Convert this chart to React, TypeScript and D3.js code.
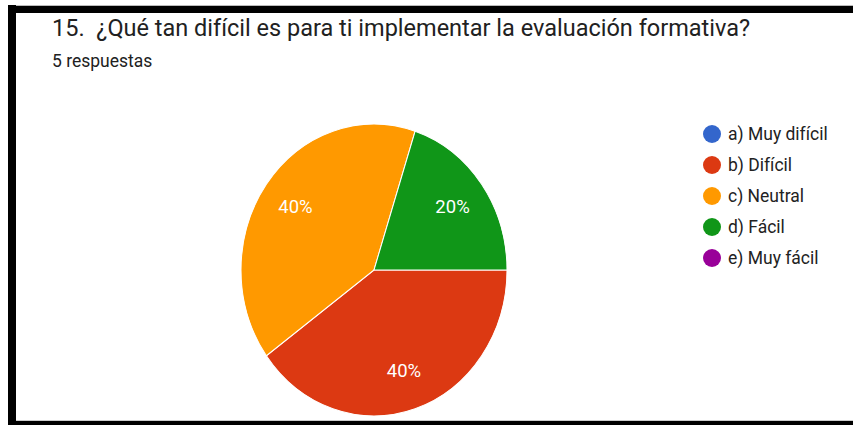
import { useEffect, useRef } from 'react';
import * as d3 from 'd3';

const categories = ['a) Muy difícil', 'b) Difícil', 'c) Neutral', 'd) Fácil', 'e) Muy fácil'];
const counts = [0, 2, 2, 1, 0];
const colors = ['#3366cc', '#dc3912', '#ff9900', '#109618', '#990099'];
const title = '15.  ¿Qué tan difícil es para ti implementar la evaluación formativa?';
const subtitle = '5 respuestas';

export default function App() {
    const svgRef = useRef<SVGSVGElement>(null);

    useEffect(() => {
        if (!svgRef.current) return;
        const svg = d3.select(svgRef.current);
        svg.selectAll('*').remove();

        const width = 853;
        const height = 425;
        const font = 'Roboto, Arial, sans-serif';

        svg.append('rect').attr('width', width).attr('height', height).attr('fill', '#fff');

        // frame (screenshot border)
        svg.append('rect').attr('x', 8).attr('y', 5).attr('width', width - 8).attr('height', 1).attr('fill', '#bbb');
        svg.append('rect').attr('x', 8).attr('y', 6).attr('width', width - 8).attr('height', 7).attr('fill', '#000');
        svg.append('rect').attr('x', 8).attr('y', 5).attr('width', 8).attr('height', height - 5).attr('fill', '#000');
        svg.append('rect').attr('x', 16).attr('y', 420).attr('width', width - 16).attr('height', 1).attr('fill', '#ccc');
        svg.append('rect').attr('x', 8).attr('y', 421).attr('width', width - 8).attr('height', 4).attr('fill', '#000');

        // title
        svg.append('text')
            .attr('x', 52).attr('y', 36)
            .attr('font-family', font).attr('font-size', 23.5)
            .attr('fill', '#212121')
            .style('white-space', 'pre')
            .text(title);

        svg.append('text')
            .attr('x', 52).attr('y', 67)
            .attr('font-family', font).attr('font-size', 17.5)
            .attr('fill', '#212121')
            .text(subtitle);

        // pie (the screenshot is a bit stretched vertically)
        const cx = 374;
        const cy = 270;
        const r = 133;
        const stretch = 1.097;
        const total = d3.sum(counts);

        const pie = d3.pie<number>()
            .sort(null)
            .value(d => d)
            .startAngle(Math.PI / 2)
            .endAngle(Math.PI / 2 + 2 * Math.PI);
        const arcs = pie(counts);
        const arc = d3.arc<d3.PieArcDatum<number>>().innerRadius(0).outerRadius(r);
        const labelArc = d3.arc<d3.PieArcDatum<number>>().innerRadius(r * 0.73).outerRadius(r * 0.73);

        const g = svg.append('g').attr('transform', `translate(${cx},${cy}) scale(1,${stretch})`);
        g.selectAll('path')
            .data(arcs.filter(d => d.value > 0))
            .enter()
            .append('path')
            .attr('d', arc)
            .attr('fill', d => colors[d.index])
            .attr('stroke', '#fff')
            .attr('stroke-width', 1);

        arcs.filter(d => d.value > 0).forEach(d => {
            const [lx, ly] = labelArc.centroid(d);
            svg.append('text')
                .attr('x', cx + lx)
                .attr('y', cy + ly * stretch)
                .attr('text-anchor', 'middle')
                .attr('dominant-baseline', 'central')
                .attr('font-family', font).attr('font-size', 18.5)
                .attr('fill', '#fff')
                .text(`${Math.round((d.value / total) * 100)}%`);
        });

        // legend
        const legendY = d3.scalePoint<string>().domain(categories).range([134, 258]);
        const lg = svg.append('g');
        categories.forEach((c, i) => {
            const y = legendY(c) as number;
            lg.append('circle')
                .attr('cx', 712).attr('cy', y).attr('r', 9)
                .attr('fill', colors[i]);
            lg.append('text')
                .attr('x', 728).attr('y', y)
                .attr('dominant-baseline', 'central')
                .attr('font-family', font).attr('font-size', 17.5)
                .attr('fill', '#222')
                .text(c);
        });
    }, []);

    return (
        <svg ref={svgRef} width={853} height={425}
            style={{ position: 'absolute', left: 0, top: 0, display: 'block' }} />
    );
}
